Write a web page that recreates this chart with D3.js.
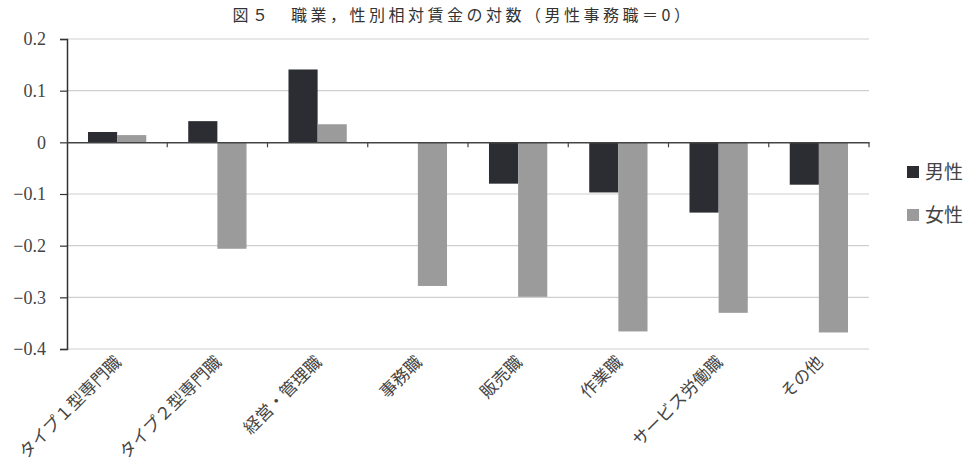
<!DOCTYPE html>
<html>
<head>
<meta charset="utf-8">
<script src="https://cdn.jsdelivr.net/npm/d3@7"></script>
<style>
  body { margin: 0; background: #fff; }
</style>
</head>
<body>
<svg id="chart" width="976" height="465"></svg>
<script>
const categories = ["タイプ１型専門職", "タイプ２型専門職", "経営・管理職", "事務職", "販売職", "作業職", "サービス労働職", "その他"];
const seriesNames = ["男性", "女性"];
const maleValues = [0.020, 0.041, 0.141, 0, -0.080, -0.097, -0.136, -0.082];
const femaleValues = [0.014, -0.206, 0.035, -0.278, -0.299, -0.366, -0.330, -0.368];
const yTicks = [0.2, 0.1, 0, -0.1, -0.2, -0.3, -0.4];
const colors = ["#2b2d33", "#9b9b9b"];

const serif = "'Liberation Serif', 'Noto Sans CJK JP', serif";
const svg = d3.select("#chart");
const plotLeft = 67, plotRight = 869, plotTop = 39, plotBottom = 349;

const x = d3.scaleBand().domain(categories).range([plotLeft, plotRight]).paddingInner(0).paddingOuter(0);
const xSub = d3.scaleBand().domain(seriesNames).range([0, x.bandwidth()]).paddingInner(0).paddingOuter(0.72);
const y = d3.scaleLinear().domain([-0.4, 0.2]).range([plotBottom, plotTop]);

// title
svg.append("text")
    .attr("x", 463).attr("y", 21)
    .attr("text-anchor", "middle")
    .style("font-family", "'Noto Sans CJK JP', sans-serif")
    .style("font-size", "16px")
    .style("letter-spacing", "3.5px")
    .attr("fill", "#333")
    .text("図５　職業，性別相対賃金の対数（男性事務職＝0）");

// gridlines
svg.append("g").selectAll("line").data(yTicks.filter(d => d !== 0)).join("line")
    .attr("x1", plotLeft).attr("x2", plotRight)
    .attr("y1", d => y(d)).attr("y2", d => y(d))
    .attr("stroke", "#cfcfcf").attr("stroke-width", 1.2);

// bars
const data = categories.map((c, i) => ({ cat: c, vals: [maleValues[i], femaleValues[i]] }));
const groups = svg.append("g").selectAll("g").data(data).join("g")
    .attr("transform", d => `translate(${x(d.cat)},0)`);
groups.selectAll("rect").data(d => d.vals.map((v, j) => ({ name: seriesNames[j], v, j }))).join("rect")
    .attr("x", d => xSub(d.name))
    .attr("width", xSub.bandwidth())
    .attr("y", d => y(Math.max(0, d.v)))
    .attr("height", d => Math.abs(y(d.v) - y(0)))
    .attr("fill", d => colors[d.j]);

// y axis
const yAxis = svg.append("g")
    .attr("transform", `translate(${plotLeft},0)`)
    .call(d3.axisLeft(y).tickValues(yTicks).tickSize(7).tickPadding(14)
        .tickFormat(d => d === 0 ? "0" : (d < 0 ? "−" + d3.format(".1f")(-d) : d3.format(".1f")(d))));
yAxis.select(".domain").attr("stroke", "#333").attr("stroke-width", 1.5);
yAxis.selectAll(".tick line").attr("stroke", "#333").attr("stroke-width", 1.2);
yAxis.selectAll(".tick text").style("font-family", serif).style("font-size", "18px").attr("fill", "#444");

// zero axis with category ticks
const xAxis = svg.append("g")
    .attr("transform", `translate(0,${y(0)})`)
    .call(d3.axisBottom(x).tickSize(0).tickFormat(""));
xAxis.select(".domain").attr("stroke", "#444").attr("stroke-width", 1.5);
xAxis.append("g").selectAll("line").data(categories).join("line")
    .attr("x1", d => x(d) + x.bandwidth()).attr("x2", d => x(d) + x.bandwidth())
    .attr("y1", 0).attr("y2", 5)
    .attr("stroke", "#444").attr("stroke-width", 1.2);

// category labels
svg.append("g").selectAll("text").data(categories).join("text")
    .attr("transform", d => `translate(${x(d) + x.bandwidth() / 2 + 1},${plotBottom + 10}) rotate(-45)`)
    .attr("text-anchor", "end")
    .attr("dy", "0.35em")
    .style("font-family", serif)
    .style("font-size", "17px")
    .attr("fill", "#444")
    .text(d => d);

// legend
const legend = svg.append("g").selectAll("g").data(seriesNames).join("g")
    .attr("transform", (d, i) => `translate(907,${172 + i * 43})`);
legend.append("rect").attr("x", 0).attr("y", -6).attr("width", 12).attr("height", 12)
    .attr("fill", (d, i) => colors[i]);
legend.append("text").attr("x", 18).attr("dy", "0.35em")
    .style("font-family", serif)
    .style("font-size", "19px").attr("fill", "#444").text(d => d);
</script>
</body>
</html>
